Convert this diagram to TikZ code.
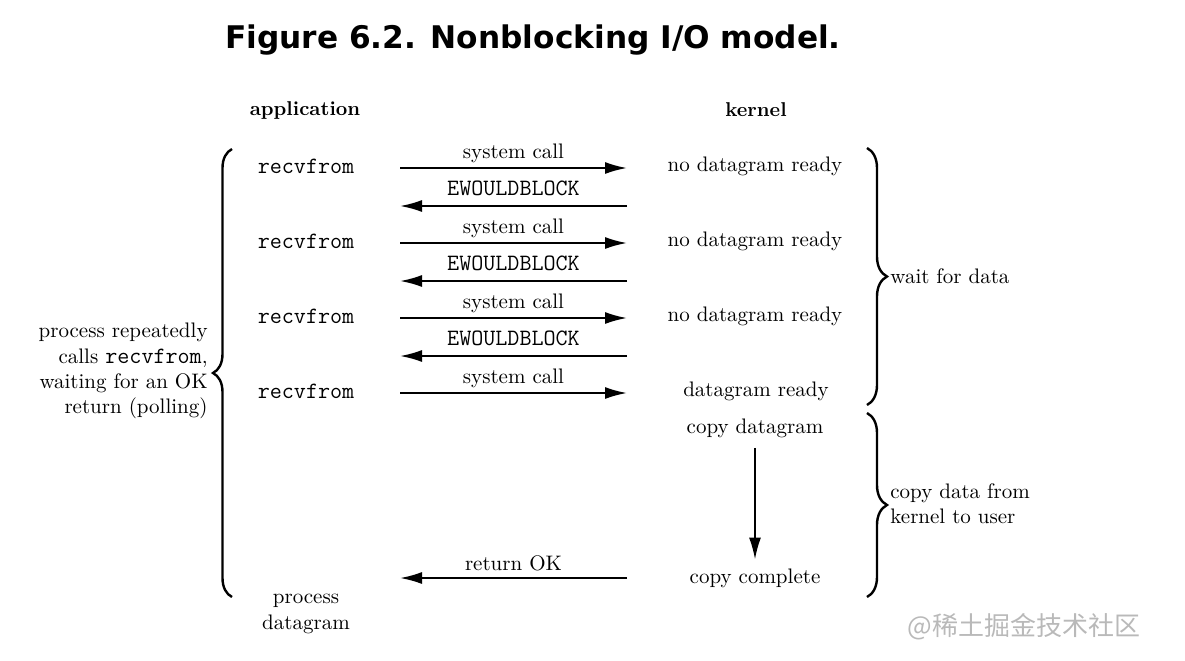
\documentclass[tikz,border=0pt]{standalone}
\usepackage{fontspec}
\newfontfamily\titlefont{DejaVu Sans}
\newfontfamily\cjk{Noto Sans CJK SC}
\usetikzlibrary{arrows.meta,decorations.pathreplacing}
\definecolor{cmark}{RGB}{185,185,185}
\newcommand\codefont{\ttfamily\fontsize{11.7}{12.6}\selectfont}

\begin{document}
\begin{tikzpicture}[x=0.5pt,y=-0.5pt,
  font=\fontsize{10.5}{12.6}\selectfont,
  t/.style={inner sep=0},
  c/.style={inner sep=0,font=\codefont},
  a/.style={-{Latex[length=11pt,width=6pt]},line width=1pt},
  br/.style={decorate,decoration={brace,amplitude=9.5pt},line width=1.2pt},
]
\useasboundingbox (0,0) rectangle (1185,660);
\node[t,font=\titlefont\bfseries\fontsize{15.6}{18}\selectfont] (title) at (533,40) {Figure 6.2. Nonblocking I/O model.};
\node[t,font=\bfseries] (app) at (305,110) {application};
\node[t,font=\bfseries] (ker) at (756,110) {kernel};
% --- polling: three failed calls, then the one that finds data ---
\foreach \i/\y in {1/166,2/241,3/316,4/391}{
  \node[c] (r\i) at (306,\y) {recvfrom};
  \coordinate (sa\i) at (400,\y+2); \coordinate (sb\i) at (627,\y+2);
  \draw[a] (sa\i) -- node[t,above=2pt]{system call} (sb\i);
}
\foreach \i/\y in {1/166,2/241,3/316}{
  \node[t] (k\i) at (755,\y) {no datagram ready};
  \coordinate (ea\i) at (627,\y+40); \coordinate (eb\i) at (400,\y+40);
  \draw[a] (ea\i) -- node[c,above=4.5pt]{EWOULDBLOCK} (eb\i);
}
\node[t] (k4) at (756,391) {datagram ready};
% --- copy to user space ---
\node[t] (cd) at (755,428) {copy datagram};
\node[t] (cc) at (755,578) {copy complete};
\draw[a,shorten <=5pt,shorten >=4.3pt] (cd) -- (cc);
\coordinate (ra) at (627,578); \coordinate (rb) at (400,578);
\draw[a] (ra) -- node[t,above=3pt]{return OK} (rb);
\node[t,align=center] (pd) at (306,614) {process\\datagram};
% --- braces and their notes ---
\draw[br] (232,597) -- (232,149);
\node[t,align=right,anchor=east] (poll) at (208,371) {process repeatedly\\calls {\codefont recvfrom},\\waiting for an OK\\return (polling)};
\draw[br,decoration={amplitude=10pt}] (867,148) -- (867,405);
\node[t,anchor=west] (wfd) at (890,276) {wait for data};
\draw[br,decoration={amplitude=10pt}] (867,413) -- (867,597);
\node[t,align=left,anchor=west] (cdk) at (890,504) {copy data from\\kernel to user};
\node[t,font=\cjk\fontsize{13}{15}\selectfont,text=cmark,anchor=west] (wm) at (907,627) {@稀土掘金技术社区};
\end{tikzpicture}
\end{document}
